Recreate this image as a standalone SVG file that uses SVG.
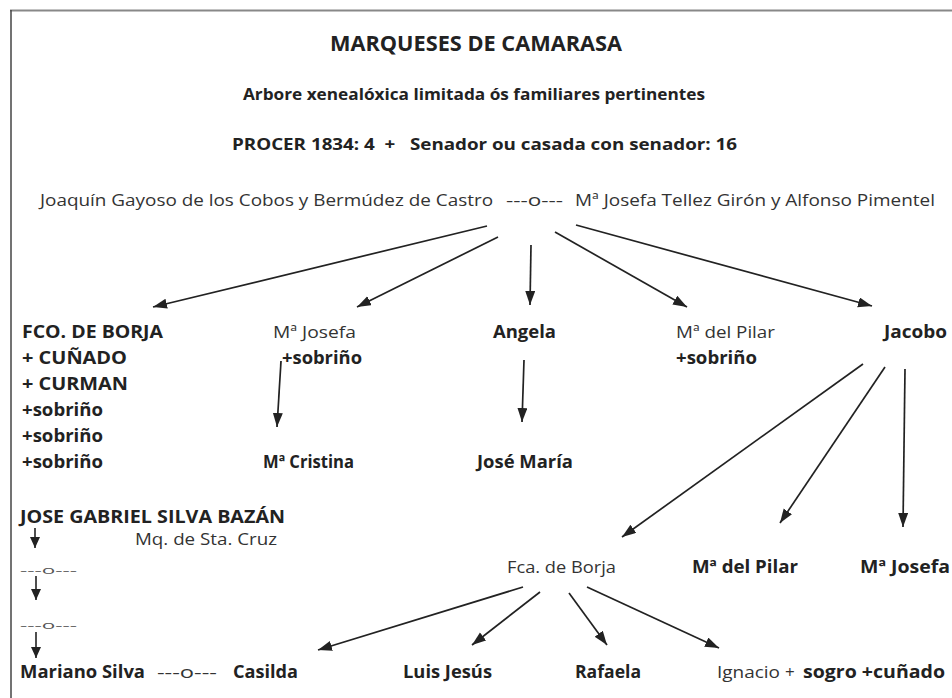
<svg xmlns="http://www.w3.org/2000/svg" width="952" height="698" viewBox="0 0 952 698">
<defs>
<marker id="ah" markerUnits="userSpaceOnUse" markerWidth="16" markerHeight="12" refX="14" refY="5" orient="auto">
<path d="M0,0 L14,5 L0,10 Z" fill="#222"/>
</marker>
<marker id="ahs" markerUnits="userSpaceOnUse" markerWidth="12" markerHeight="12" refX="11" refY="5" orient="auto">
<path d="M0,0 L11,5 L0,10 Z" fill="#222"/>
</marker>
<style>
text{font-family:"Open Sans","DejaVu Sans",sans-serif;font-size:17px;fill:#333}
.b{font-weight:bold;fill:#222}
.t{font-size:22px}
.h{font-size:16px}
.s{font-size:11px;fill:#555}
.c line{stroke:#222;stroke-width:1.7;marker-end:url(#ah)}
.c line.sm{stroke-width:1.6;marker-end:url(#ahs)}
</style>
</defs>
<rect width="952" height="698" fill="#fff"/>
<line x1="10" y1="10.5" x2="952" y2="10.5" stroke="#888" stroke-width="2"/>
<line x1="11" y1="10" x2="11" y2="698" stroke="#444" stroke-width="1.5"/>

<g id="header">
<text class="b t" x="330" y="51" textLength="292" lengthAdjust="spacingAndGlyphs">MARQUESES DE CAMARASA</text>
<text class="b h" x="243" y="100" textLength="462" lengthAdjust="spacingAndGlyphs">Arbore xenealóxica limitada ós familiares pertinentes</text>
<text class="b h" x="232" y="150" xml:space="preserve" textLength="505" lengthAdjust="spacingAndGlyphs">PROCER 1834: 4  +   Senador ou casada con senador: 16</text>
</g>

<g id="parents">
<text x="40" y="206" textLength="453" lengthAdjust="spacingAndGlyphs">Joaquín Gayoso de los Cobos y Bermúdez de Castro</text>
<text x="506" y="206" textLength="57" lengthAdjust="spacingAndGlyphs">---o---</text>
<text x="575" y="206" textLength="360" lengthAdjust="spacingAndGlyphs">Mª Josefa Tellez Girón y Alfonso Pimentel</text>
</g>

<g id="fco-borja">
<text class="b" x="22" y="338" textLength="141" lengthAdjust="spacingAndGlyphs">FCO. DE BORJA</text>
<text class="b" x="22" y="364" textLength="105" lengthAdjust="spacingAndGlyphs">+ CUÑADO</text>
<text class="b" x="22" y="390" textLength="106" lengthAdjust="spacingAndGlyphs">+ CURMAN</text>
<text class="b" x="22" y="416" textLength="81" lengthAdjust="spacingAndGlyphs">+sobriño</text>
<text class="b" x="22" y="442" textLength="81" lengthAdjust="spacingAndGlyphs">+sobriño</text>
<text class="b" x="22" y="468" textLength="81" lengthAdjust="spacingAndGlyphs">+sobriño</text>
</g>
<g id="ma-josefa">
<text x="273" y="338" textLength="83" lengthAdjust="spacingAndGlyphs">Mª Josefa</text>
<text class="b" x="282" y="364" textLength="80" lengthAdjust="spacingAndGlyphs">+sobriño</text>
</g>
<g id="angela"><text class="b" x="493" y="338" textLength="63" lengthAdjust="spacingAndGlyphs">Angela</text></g>
<g id="ma-pilar">
<text x="676" y="338" textLength="99" lengthAdjust="spacingAndGlyphs">Mª del Pilar</text>
<text class="b" x="676" y="364" textLength="81" lengthAdjust="spacingAndGlyphs">+sobriño</text>
</g>
<g id="jacobo"><text class="b" x="884" y="338" textLength="63" lengthAdjust="spacingAndGlyphs">Jacobo</text></g>
<g id="ma-cristina"><text class="b" x="263" y="468" textLength="91" lengthAdjust="spacingAndGlyphs">Mª Cristina</text></g>
<g id="jose-maria"><text class="b" x="477" y="468" textLength="96" lengthAdjust="spacingAndGlyphs">José María</text></g>

<g id="silva">
<text class="b" x="20" y="523" textLength="265" lengthAdjust="spacingAndGlyphs">JOSE GABRIEL SILVA BAZÁN</text>
<text x="135" y="545" textLength="142" lengthAdjust="spacingAndGlyphs">Mq. de Sta. Cruz</text>
<text class="s" x="20" y="574" textLength="57" lengthAdjust="spacingAndGlyphs">---o---</text>
<text class="s" x="20" y="629" textLength="57" lengthAdjust="spacingAndGlyphs">---o---</text>
</g>

<g id="fca-borja"><text x="507" y="573" textLength="109" lengthAdjust="spacingAndGlyphs">Fca. de Borja</text></g>
<g id="ma-pilar-2"><text class="b" x="692" y="573" textLength="106" lengthAdjust="spacingAndGlyphs">Mª del Pilar</text></g>
<g id="ma-josefa-2"><text class="b" x="860" y="573" textLength="90" lengthAdjust="spacingAndGlyphs">Mª Josefa</text></g>

<g id="mariano-casilda">
<text class="b" x="20" y="678" textLength="125" lengthAdjust="spacingAndGlyphs">Mariano Silva</text>
<text x="157" y="678" textLength="60" lengthAdjust="spacingAndGlyphs">---o---</text>
<text class="b" x="233" y="678" textLength="65" lengthAdjust="spacingAndGlyphs">Casilda</text>
</g>
<g id="luis-jesus"><text class="b" x="403" y="678" textLength="89" lengthAdjust="spacingAndGlyphs">Luis Jesús</text></g>
<g id="rafaela"><text class="b" x="575" y="678" textLength="66" lengthAdjust="spacingAndGlyphs">Rafaela</text></g>
<g id="ignacio">
<text x="717" y="678" textLength="63" lengthAdjust="spacingAndGlyphs">Ignacio</text>
<text x="785" y="678">+</text>
<text class="b" x="803" y="678" textLength="142" lengthAdjust="spacingAndGlyphs">sogro +cuñado</text>
</g>

<g id="connectors" class="c">
<line x1="487" y1="226" x2="153" y2="307"/>
<line x1="498" y1="237" x2="357" y2="307"/>
<line x1="531" y1="245" x2="530" y2="305"/>
<line x1="555" y1="232" x2="687" y2="307"/>
<line x1="576" y1="225" x2="872" y2="306"/>
<line x1="281" y1="361" x2="277" y2="427"/>
<line x1="524" y1="360" x2="522" y2="422"/>
<line x1="863" y1="364" x2="622" y2="537"/>
<line x1="885" y1="367" x2="780" y2="523"/>
<line x1="905" y1="369" x2="903" y2="527"/>
<line x1="523" y1="587" x2="318" y2="650"/>
<line x1="540" y1="592" x2="472" y2="645"/>
<line x1="569" y1="593" x2="607" y2="645"/>
<line x1="587" y1="587" x2="719" y2="648"/>
<line class="sm" x1="35" y1="528" x2="35" y2="548"/>
<line class="sm" x1="36" y1="576" x2="36" y2="600"/>
<line class="sm" x1="36" y1="632" x2="36" y2="658"/>
</g>
</svg>
